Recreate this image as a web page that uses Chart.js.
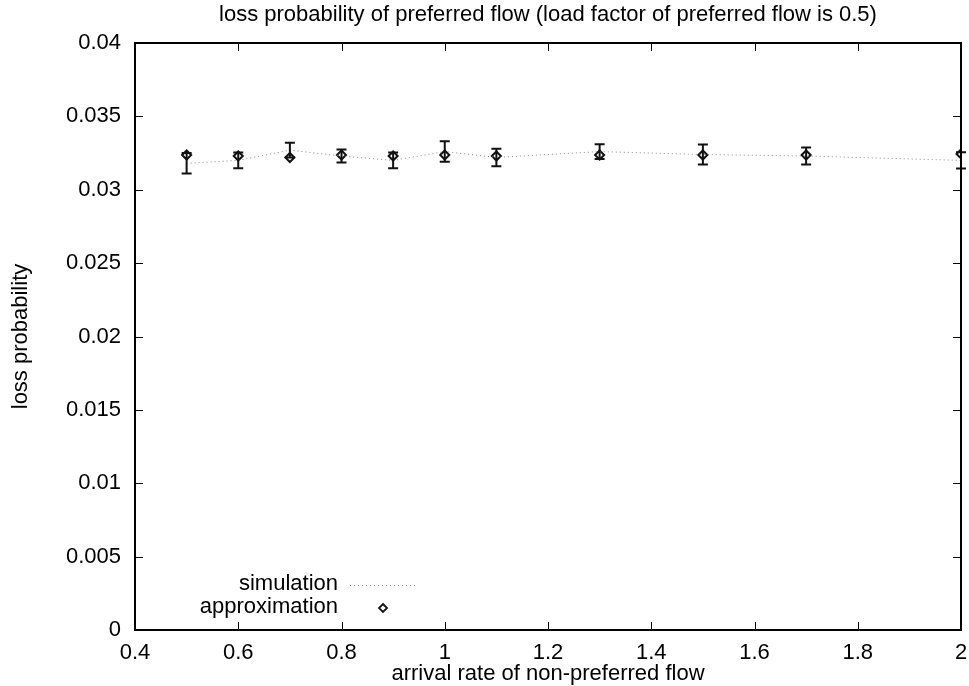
<!DOCTYPE html>
<html>
<head>
<meta charset="utf-8">
<script src="https://cdn.jsdelivr.net/npm/chart.js@4.4.1/dist/chart.umd.min.js"></script>
<style>
html,body{margin:0;padding:0;background:#fff;}
canvas{display:block;}
</style>
</head>
<body>
<canvas id="c" width="969" height="686"></canvas>
<script>
// ---- data ----
const arrivalRates = [0.5, 0.6, 0.7, 0.8, 0.9, 1.0, 1.1, 1.3, 1.5, 1.7, 2.0];
const simulationValues = [0.0318, 0.0320, 0.0327, 0.0323, 0.0320, 0.0326, 0.0322, 0.0326, 0.0324, 0.0323, 0.0320];
const simulationErrors = [0.0007, 0.00053, 0.0005, 0.00044, 0.00054, 0.0007, 0.0006, 0.0005, 0.00068, 0.00058, 0.00055];
const approximationValues = [0.03237, 0.0323, 0.0322, 0.03237, 0.0323, 0.03237, 0.0323, 0.03237, 0.03237, 0.03237, 0.03244];
const xTickValues = [0.4, 0.6, 0.8, 1.0, 1.2, 1.4, 1.6, 1.8, 2.0];
const yTickValues = [0, 0.005, 0.01, 0.015, 0.02, 0.025, 0.03, 0.035, 0.04];
const titleText = 'loss probability of preferred flow (load factor of preferred flow is 0.5)';
const xTitle = 'arrival rate of non-preferred flow';
const yTitle = 'loss probability';
const legendLabels = ['simulation', 'approximation'];

const FONT = "'Liberation Sans', Arial, Helvetica, sans-serif";
const FS = 22;

const simPoints = arrivalRates.map((x, i) => ({x, y: simulationValues[i]}));
const approxPoints = arrivalRates.map((x, i) => ({x, y: approximationValues[i]}));

const errorBarPlugin = {
  id: 'errorBars',
  afterDatasetsDraw(chart) {
    const {ctx, scales: {x, y}} = chart;
    ctx.save();
    ctx.strokeStyle = '#111';
    ctx.lineWidth = 2;
    arrivalRates.forEach((v, i) => {
      const px = x.getPixelForValue(v);
      const top = y.getPixelForValue(simulationValues[i] + simulationErrors[i]);
      const bot = y.getPixelForValue(simulationValues[i] - simulationErrors[i]);
      ctx.beginPath();
      ctx.moveTo(px, top); ctx.lineTo(px, bot);
      ctx.moveTo(px - 5, top); ctx.lineTo(px + 5, top);
      ctx.moveTo(px - 5, bot); ctx.lineTo(px + 5, bot);
      ctx.stroke();
    });
    ctx.restore();
  }
};

const framePlugin = {
  id: 'frame',
  afterDraw(chart) {
    const {ctx, chartArea: a, scales: {x, y}} = chart;
    ctx.save();
    ctx.strokeStyle = '#000';
    ctx.lineWidth = 1;
    const tl = 8;
    ctx.beginPath();
    xTickValues.forEach(v => {
      const px = Math.round(x.getPixelForValue(v)) + 0.5;
      ctx.moveTo(px, a.bottom); ctx.lineTo(px, a.bottom - tl);
      ctx.moveTo(px, a.top); ctx.lineTo(px, a.top + tl);
    });
    yTickValues.forEach(v => {
      const py = Math.round(y.getPixelForValue(v)) + 0.5;
      ctx.moveTo(a.left, py); ctx.lineTo(a.left + tl, py);
      ctx.moveTo(a.right, py); ctx.lineTo(a.right - tl, py);
    });
    ctx.stroke();
    ctx.lineWidth = 2;
    ctx.strokeRect(a.left, a.top, a.right - a.left, a.bottom - a.top);

    // legend inside plot area (bottom-left)
    ctx.font = FS + 'px ' + FONT;
    ctx.fillStyle = '#000';
    ctx.textAlign = 'right';
    ctx.textBaseline = 'middle';
    const tx = a.left + 203;
    const y1 = a.bottom - 46, y2 = a.bottom - 23;
    ctx.fillText(legendLabels[0], tx, y1);
    ctx.fillText(legendLabels[1], tx, y2);
    ctx.strokeStyle = '#888';
    ctx.lineWidth = 1;
    ctx.setLineDash([1, 3]);
    ctx.beginPath();
    ctx.moveTo(tx + 12, y1 + 1.5); ctx.lineTo(tx + 78, y1 + 1.5);
    ctx.stroke();
    ctx.setLineDash([]);
    const mx = tx + 45, my = y2 + 1;
    ctx.strokeStyle = '#111';
    ctx.lineWidth = 1.8;
    ctx.beginPath();
    ctx.moveTo(mx, my - 4); ctx.lineTo(mx + 4, my); ctx.lineTo(mx, my + 4); ctx.lineTo(mx - 4, my); ctx.closePath();
    ctx.stroke();
    ctx.restore();
  }
};

new Chart(document.getElementById('c'), {
  type: 'scatter',
  data: {
    datasets: [
      {
        label: legendLabels[0],
        data: simPoints,
        showLine: true,
        borderColor: '#888',
        borderWidth: 1,
        borderDash: [1, 3],
        pointRadius: 0,
        tension: 0
      },
      {
        label: legendLabels[1],
        data: approxPoints,
        showLine: false,
        pointStyle: 'rectRot',
        pointRadius: 4.5,
        pointBorderColor: '#111',
        pointBackgroundColor: '#fff',
        pointBorderWidth: 2
      }
    ]
  },
  options: {
    responsive: false,
    animation: false,
    devicePixelRatio: 1,
    layout: {padding: {left: 0, right: 8, top: 0, bottom: 0}},
    plugins: {
      legend: {display: false},
      tooltip: {enabled: false},
      title: {
        display: true,
        text: titleText,
        fullSize: false,
        color: '#000',
        font: {family: FONT, size: FS, weight: 'normal'},
        padding: {top: 2, bottom: 14.6}
      }
    },
    scales: {
      x: {
        type: 'linear',
        min: 0.4, max: 2,
        afterFit(s) { s.height = 56; s.paddingLeft = 0; s.paddingRight = 0; },
        afterBuildTicks(s) { s.ticks = xTickValues.map(v => ({value: v})); },
        grid: {display: false, drawTicks: false},
        border: {display: false},
        ticks: {
          color: '#000',
          padding: 10,
          font: {family: FONT, size: FS},
          callback: v => String(Math.round(v * 10) / 10)
        },
        title: {
          display: true, text: xTitle, color: '#000',
          font: {family: FONT, size: FS},
          padding: {top: 0, bottom: -1}
        }
      },
      y: {
        type: 'linear',
        min: 0, max: 0.04,
        afterFit(s) { s.width = 135; },
        afterBuildTicks(s) { s.ticks = yTickValues.map(v => ({value: v})); },
        grid: {display: false, drawTicks: false},
        border: {display: false},
        ticks: {
          color: '#000',
          padding: 14,
          font: {family: FONT, size: FS},
          callback: v => String(Math.round(v * 1000) / 1000)
        },
        title: {
          display: true, text: yTitle, color: '#000',
          font: {family: FONT, size: FS},
          padding: {top: 8, bottom: 0}
        }
      }
    }
  },
  plugins: [errorBarPlugin, framePlugin]
});
</script>
</body>
</html>
